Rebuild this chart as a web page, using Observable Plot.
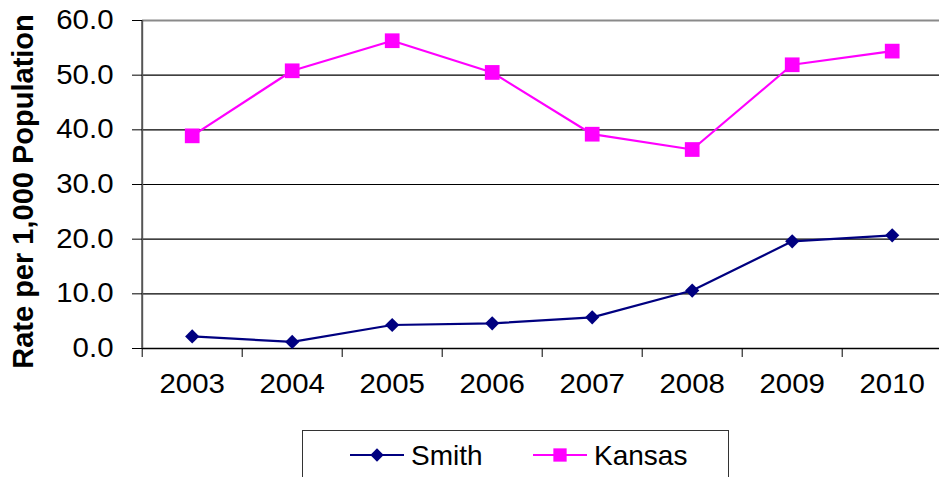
<!DOCTYPE html>
<html><head><meta charset="utf-8">
<script src="https://cdn.jsdelivr.net/npm/d3@7"></script>
<script src="https://cdn.jsdelivr.net/npm/@observablehq/plot@0.6"></script>
<style>
body{margin:0;background:#fff;font-family:"Liberation Sans",Arial,sans-serif;}
#wrap{position:relative;width:939px;height:477px;overflow:hidden;background:#fff;}
#legend{position:absolute;left:302px;top:430px;width:427px;height:60px;border:1px solid #333;box-sizing:border-box;background:#fff;}
</style></head><body><div id="wrap"></div>
<script>
const years = [2003, 2004, 2005, 2006, 2007, 2008, 2009, 2010];
const smith = [2.2, 1.2, 4.3, 4.6, 5.7, 10.6, 19.6, 20.7];
const kansas = [38.9, 50.8, 56.3, 50.5, 39.2, 36.4, 51.9, 54.4];
const yTicks = [0, 10, 20, 30, 40, 50, 60];
const seriesNames = ["Smith", "Kansas"];
const seriesColors = ["#000080", "#FF00FF"];
const seriesSymbols = ["diamond2", "square"];
const yLabel = "Rate per 1,000 Population";

const data = [];
years.forEach((y, i) => {
  data.push({year: y, value: smith[i], series: "Smith"});
  data.push({year: y, value: kansas[i], series: "Kansas"});
});
const bounds = years.map(y => y - 0.5).concat([years[years.length - 1] + 0.5]);
const x0 = bounds[0], x1 = bounds[bounds.length - 1];

const H = 420;
const chart = Plot.plot({
  width: 939, height: H,
  marginLeft: 142, marginRight: 0, marginTop: 20, marginBottom: H - 348,
  style: {fontFamily: '"Liberation Sans", Arial, sans-serif', background: "#fff", color: "#000"},
  x: {type: "linear", domain: [x0, x1], range: [141.7, 941.7]},
  y: {domain: [0, 60], range: [348, 20]},
  color: {domain: seriesNames, range: seriesColors},
  symbol: {domain: seriesNames, range: seriesSymbols},
  marks: [
    Plot.ruleY(yTicks.filter(d => d > 0 && d < 60), {stroke: "#000", strokeWidth: 1.2}),
    Plot.ruleY([60], {stroke: "#8a8a8a", strokeWidth: 2}),
    Plot.ruleY([0], {stroke: "#000", strokeWidth: 1.5}),
    Plot.ruleX([x0], {y1: 0, y2: 60, stroke: "#555", strokeWidth: 2}),
    Plot.axisY({ticks: yTicks, tickFormat: d => d.toFixed(1), tickSize: 10, tickPadding: 19, fontSize: 27, label: null, stroke: "#000"}),
    Plot.axisX({ticks: bounds, tickFormat: () => "", tickSize: 9, label: null, stroke: "#000"}),
    Plot.axisX({ticks: years, tickFormat: d => String(d), tickSize: 0, tickPadding: 25, fontSize: 27, label: null}),
    Plot.text([yLabel], {frameAnchor: "left", rotate: -90, text: d => d, fontWeight: "bold", fontSize: 29, lineAnchor: "middle", textAnchor: "middle", dx: -118.5, dy: 7, fill: "#000"}),
    Plot.line(data, {x: "year", y: "value", stroke: "series", z: "series", strokeWidth: 2.2}),
    Plot.dot(data.filter(d => d.series === "Smith"), {x: "year", y: "value", fill: "series", symbol: "series", r: 6.4, stroke: null}),
    Plot.dot(data.filter(d => d.series === "Kansas"), {x: "year", y: "value", fill: "series", symbol: "series", r: 8.3, stroke: null})
  ]
});
const wrap = document.getElementById("wrap");
wrap.appendChild(chart);

// slight horizontal stretch of tick labels, as in the reference
chart.querySelectorAll('g[aria-label="y-axis tick label"] text, g[aria-label="x-axis tick label"] text').forEach(t => {
  const tr = t.getAttribute("transform");
  if (tr) t.setAttribute("transform", tr + " scale(1.09,1)");
});

// legend
const legend = document.createElement("div");
legend.id = "legend";
wrap.appendChild(legend);
const lsvg = d3.select(legend).append("svg").attr("width", 427).attr("height", 60);
const itemX = [47, 230];
seriesNames.forEach((name, i) => {
  const g = lsvg.append("g").attr("transform", `translate(${itemX[i]},24)`);
  g.append("line").attr("x1", 0).attr("x2", 54).attr("y1", 0).attr("y2", 0).attr("stroke", seriesColors[i]).attr("stroke-width", 2);
  const sym = i === 0 ? d3.symbolDiamond2 : d3.symbolSquare;
  const size = i === 0 ? Math.PI * 6 * 6 : Math.PI * 7.5 * 7.5;
  g.append("path").attr("d", d3.symbol(sym, size)()).attr("transform", "translate(27,0)").attr("fill", seriesColors[i]);
  g.append("text").attr("x", 61).attr("y", 10).attr("font-size", 28).attr("fill", "#000")
    .attr("font-family", '"Liberation Sans", Arial, sans-serif').text(name);
});
</script>
</body></html>
